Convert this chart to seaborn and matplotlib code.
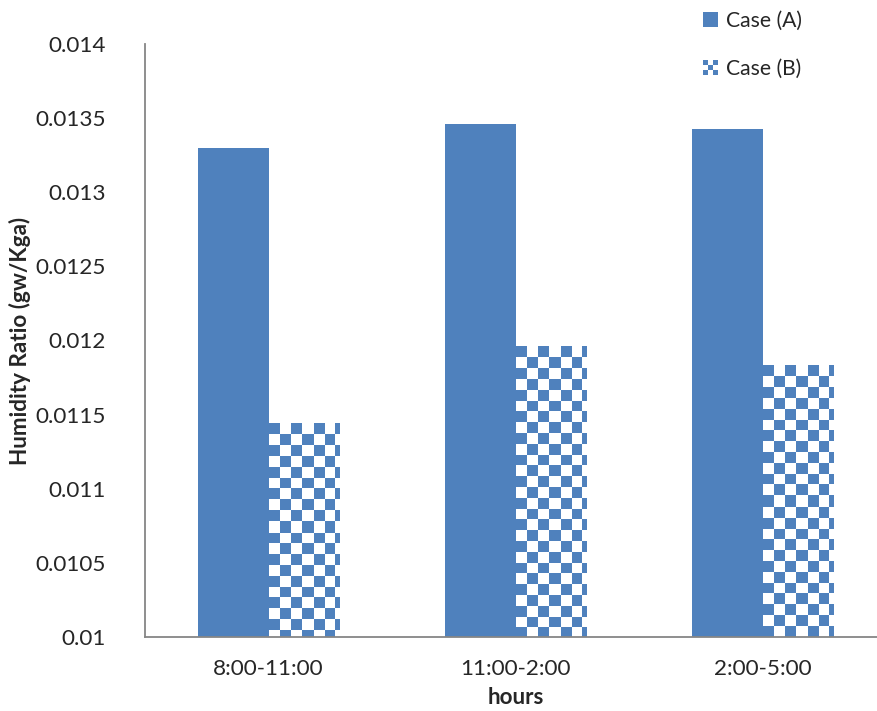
import numpy as np
import pandas as pd
import matplotlib
matplotlib.use("Agg")
import matplotlib.pyplot as plt
import seaborn as sns
from matplotlib.patches import Rectangle
from matplotlib.legend_handler import HandlerBase

# ---- data ----
hours = ["8:00-11:00", "11:00-2:00", "2:00-5:00"]
case_a = [0.01330, 0.01346, 0.01343]
case_b = [0.01144, 0.01196, 0.01183]
case_labels = ["Case (A)", "Case (B)"]
y_ticks = [0.01, 0.0105, 0.011, 0.0115, 0.012, 0.0125, 0.013, 0.0135, 0.014]
y_tick_labels = ["0.01", "0.0105", "0.011", "0.0115", "0.012", "0.0125", "0.013", "0.0135", "0.014"]

BLUE = "#4F81BD"
AXIS_GRAY = "#868686"

sns.set_style("white")
plt.rcParams["font.family"] = ["Lato", "DejaVu Sans"]
plt.rcParams["font.size"] = 16.2

df = pd.DataFrame({
    "hours": hours * 2,
    "ratio": case_a + case_b,
    "case": [case_labels[0]] * len(hours) + [case_labels[1]] * len(hours),
})

fig = plt.figure(figsize=(8.77, 7.11), dpi=100)
ax = fig.add_axes([145 / 877, 1 - 637 / 711, 741 / 877, (637 - 44) / 711])

sns.barplot(data=df, x="hours", y="ratio", hue="case", palette=[BLUE, BLUE],
            width=0.567, gap=0, saturation=1, linewidth=0, legend=False, ax=ax)

ax.set_ylim(y_ticks[0], y_ticks[-1])
ax.set_xlim(-0.5, len(hours) - 0.5)

# checkered fill for Case (B): one image per bar, cells anchored at the bar's top-left
cell_px = 10.8
blue_rgb = np.array(matplotlib.colors.to_rgb(BLUE))
fig.canvas.draw()
for bar in ax.containers[1]:
    bar.set_facecolor("none")
    x0, x1 = bar.get_x(), bar.get_x() + bar.get_width()
    y1 = bar.get_y() + bar.get_height()
    y0 = max(bar.get_y(), ax.get_ylim()[0])
    (px0, py0), (px1, py1) = ax.transData.transform([(x0, y0), (x1, y1)])
    w = int(round(px1 - px0))
    h = int(round(py1 - py0))
    cols = (np.arange(w) // cell_px).astype(int)
    rows = (np.arange(h) // cell_px).astype(int)
    mask = (rows[:, None] + cols[None, :]) % 2 == 0
    rgb = np.ones((h, w, 3))
    rgb[mask] = blue_rgb
    ax.imshow(rgb, extent=(x0, x1, y0, y1), origin="upper", aspect="auto",
              interpolation="nearest", zorder=bar.get_zorder() + 0.1)

ax.set_ylim(y_ticks[0], y_ticks[-1])
ax.set_xlim(-0.5, len(hours) - 0.5)

# axes styling
for s in ["top", "right"]:
    ax.spines[s].set_visible(False)
for s in ["left", "bottom"]:
    ax.spines[s].set_color(AXIS_GRAY)
    ax.spines[s].set_linewidth(1.3)
    ax.spines[s].set_zorder(5)

ax.set_yticks(y_ticks)
ax.set_yticklabels(y_tick_labels)
ax.tick_params(axis="y", direction="out", length=6, width=1.3, color=AXIS_GRAY, pad=22)

ax.set_xticks(np.arange(len(hours) + 1) - 0.5)
ax.set_xticklabels([""] * (len(hours) + 1))
ax.tick_params(axis="x", which="major", direction="out", length=7, width=1.3, color=AXIS_GRAY)
ax.set_xticks(np.arange(len(hours)), minor=True)
ax.set_xticklabels(hours, minor=True)
ax.tick_params(axis="x", which="minor", length=0, pad=16)

ax.set_xlabel("hours", fontweight="bold")
ax.xaxis.set_label_coords(0.5, -(698 - 637) / 593, transform=ax.transAxes)
ax.xaxis.label.set_verticalalignment("center")
ax.set_ylabel("Humidity Ratio (gw/Kga)", fontweight="bold")
ax.yaxis.set_label_coords(-(145 - 20) / 741, 0.5, transform=ax.transAxes)
ax.yaxis.label.set_verticalalignment("center")


class CheckerHandler(HandlerBase):
    def create_artists(self, legend, orig_handle, xdescent, ydescent,
                       width, height, fontsize, trans):
        arts = [Rectangle((-xdescent, -ydescent), width, height,
                          facecolor="white", edgecolor="none", transform=trans)]
        n = 3
        cw, ch = width / n, height / n
        for i in range(n):
            for j in range(n):
                if (i + j) % 2 == 0:
                    arts.append(Rectangle((-xdescent + j * cw, -ydescent + i * ch), cw, ch,
                                          facecolor=BLUE, edgecolor="none", transform=trans))
        return arts


h_a = Rectangle((0, 0), 1, 1, facecolor=BLUE, edgecolor="none")
h_b = Rectangle((0, 0), 1, 1, facecolor="white", edgecolor="none")
fig.legend([h_a, h_b], case_labels, loc="upper left", fontsize=15.2,
           bbox_to_anchor=(684 / 877, 1 + 8 / 711), frameon=False,
           handlelength=0.72, handleheight=0.72, handletextpad=0.35,
           labelspacing=1.32, handler_map={h_b: CheckerHandler()})

fig.savefig("out.png", dpi=100)
